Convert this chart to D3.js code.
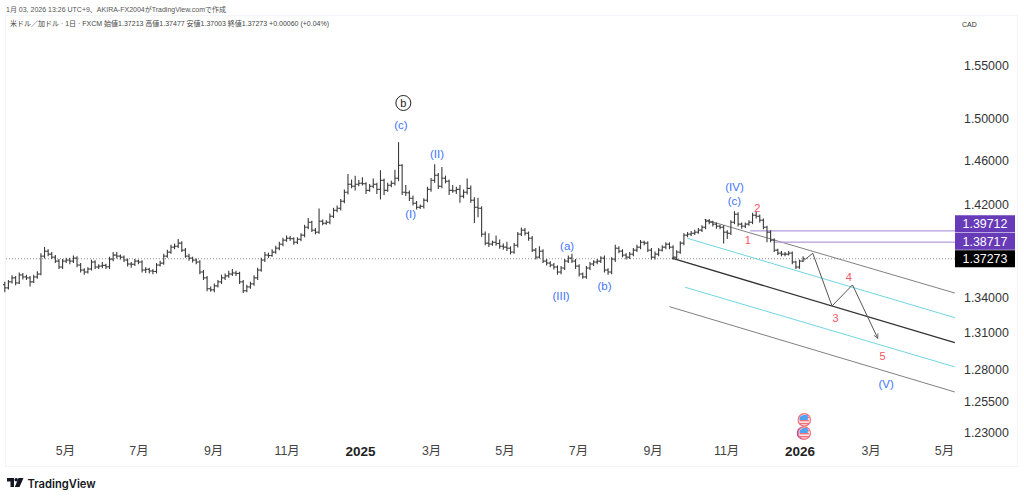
<!DOCTYPE html>
<html lang="ja">
<meta charset="utf-8">
<script src="https://d3js.org/d3.v7.min.js"></script>
<style>
    body {margin: 0; background: #fff;}
    text {font-family: "Liberation Sans", "Noto Sans CJK JP", sans-serif;}
</style>
<svg id="base" width="1024" height="501"></svg>

<script>
    // one bar every 3 calendar days
    var firstBar = new Date(2024, 2, 12);

    var opens = [
        1.3505,1.3478,1.3529,1.3563,1.3520,1.3588,1.3571,1.3563,1.3529,1.3571,
        1.3596,1.3750,1.3793,1.3767,1.3741,1.3707,1.3656,1.3707,1.3716,1.3707,
        1.3733,1.3673,1.3630,1.3613,1.3639,1.3699,1.3656,1.3664,1.3670,1.3658,
        1.3724,1.3759,1.3750,1.3741,1.3716,1.3682,1.3680,1.3707,1.3699,1.3630,
        1.3636,1.3622,1.3618,1.3673,1.3690,1.3750,1.3785,1.3828,1.3836,1.3863,
        1.3802,1.3750,1.3733,1.3716,1.3699,1.3613,1.3563,1.3470,1.3461,1.3495,
        1.3529,1.3563,1.3580,1.3596,1.3605,1.3601,1.3529,1.3453,1.3486,1.3512,
        1.3563,1.3630,1.3716,1.3759,1.3755,1.3785,1.3819,1.3854,1.3889,1.3906,
        1.3902,1.3871,1.3897,1.3933,1.4003,1.4047,1.3977,1.3959,1.4056,1.4038,
        1.4047,1.4100,1.4153,1.4171,1.4234,1.4315,1.4387,1.4369,1.4387,1.4396,
        1.4392,1.4332,1.4369,1.4387,1.4341,1.4423,1.4332,1.4378,1.4396,1.4442,
        1.4560,1.4315,1.4310,1.4261,1.4216,1.4180,1.4189,1.4243,1.4341,1.4423,
        1.4469,1.4369,1.4442,1.4414,1.4332,1.4328,1.4341,1.4279,1.4315,1.4350,
        1.4243,1.4180,1.4171,1.3942,1.3863,1.3855,1.3871,1.3860,1.3836,1.3828,
        1.3819,1.3785,1.3845,1.3942,1.3977,1.3950,1.3906,1.3802,1.3741,1.3793,
        1.3707,1.3690,1.3673,1.3656,1.3613,1.3647,1.3707,1.3733,1.3707,1.3664,
        1.3596,1.3571,1.3647,1.3682,1.3699,1.3707,1.3733,1.3630,1.3613,1.3724,
        1.3819,1.3793,1.3759,1.3741,1.3767,1.3802,1.3828,1.3871,1.3863,1.3802,
        1.3741,1.3767,1.3802,1.3828,1.3854,1.3828,1.3741,1.3785,1.3863,1.3933,
        1.3942,1.3950,1.3959,1.3977,1.4003,1.4056,1.4047,1.4030,1.4012,1.4003,
        1.3959,1.3950,1.4047,1.4118,1.4030,1.4012,1.4030,1.4047,1.4109,1.4100,
        1.4065,1.4003,1.3959,1.3889,1.3802,1.3776,1.3767,1.3767,1.3776,1.3699,
        1.3656,1.3707
    ];
    var highs = [
        1.3530,1.3545,1.3585,1.3580,1.3610,1.3605,1.3590,1.3578,1.3590,1.3620,
        1.3775,1.3830,1.3810,1.3785,1.3760,1.3725,1.3725,1.3735,1.3735,1.3755,
        1.3750,1.3690,1.3645,1.3655,1.3720,1.3715,1.3680,1.3700,1.3685,1.3745,
        1.3785,1.3785,1.3765,1.3755,1.3730,1.3700,1.3725,1.3720,1.3715,1.3655,
        1.3650,1.3640,1.3690,1.3710,1.3770,1.3805,1.3850,1.3860,1.3900,1.3880,
        1.3820,1.3770,1.3745,1.3730,1.3715,1.3630,1.3580,1.3490,1.3515,1.3545,
        1.3590,1.3600,1.3625,1.3640,1.3625,1.3615,1.3545,1.3505,1.3530,1.3585,
        1.3650,1.3735,1.3785,1.3780,1.3810,1.3840,1.3875,1.3910,1.3930,1.3925,
        1.3915,1.3915,1.3950,1.4025,1.4085,1.4060,1.3995,1.4170,1.4070,1.4065,
        1.4125,1.4175,1.4195,1.4255,1.4340,1.4480,1.4430,1.4465,1.4425,1.4450,
        1.4405,1.4390,1.4440,1.4400,1.4515,1.4440,1.4400,1.4420,1.4520,1.4774,
        1.4570,1.4380,1.4330,1.4285,1.4235,1.4205,1.4260,1.4365,1.4445,1.4570,
        1.4490,1.4545,1.4465,1.4430,1.4380,1.4365,1.4380,1.4340,1.4440,1.4375,
        1.4270,1.4265,1.4190,1.3965,1.3950,1.3885,1.3930,1.3895,1.3860,1.3875,
        1.3835,1.3865,1.3960,1.4000,1.3995,1.3965,1.3925,1.3820,1.3835,1.3810,
        1.3725,1.3705,1.3690,1.3670,1.3665,1.3725,1.3755,1.3770,1.3725,1.3680,
        1.3610,1.3665,1.3700,1.3715,1.3725,1.3750,1.3755,1.3645,1.3740,1.3850,
        1.3835,1.3810,1.3775,1.3785,1.3820,1.3850,1.3890,1.3885,1.3880,1.3820,
        1.3790,1.3820,1.3845,1.3870,1.3870,1.3845,1.3800,1.3880,1.3950,1.3960,
        1.3970,1.3980,1.3995,1.4020,1.4075,1.4075,1.4060,1.4045,1.4025,1.4020,
        1.3975,1.4065,1.4145,1.4135,1.4045,1.4045,1.4065,1.4130,1.4140,1.4115,
        1.4080,1.4015,1.3975,1.3905,1.3815,1.3795,1.3785,1.3795,1.3790,1.3710,
        1.3720,1.3748
    ];
    var lows = [
        1.3440,1.3465,1.3515,1.3500,1.3510,1.3550,1.3545,1.3490,1.3520,1.3555,
        1.3585,1.3730,1.3750,1.3725,1.3690,1.3640,1.3640,1.3690,1.3680,1.3690,
        1.3655,1.3610,1.3590,1.3600,1.3625,1.3640,1.3640,1.3645,1.3640,1.3640,
        1.3705,1.3730,1.3720,1.3700,1.3660,1.3650,1.3665,1.3680,1.3610,1.3605,
        1.3600,1.3595,1.3600,1.3660,1.3675,1.3735,1.3770,1.3810,1.3820,1.3785,
        1.3735,1.3710,1.3695,1.3680,1.3595,1.3545,1.3450,1.3445,1.3440,1.3480,
        1.3510,1.3545,1.3565,1.3580,1.3580,1.3510,1.3435,1.3440,1.3470,1.3495,
        1.3545,1.3615,1.3700,1.3735,1.3745,1.3770,1.3800,1.3835,1.3875,1.3885,
        1.3850,1.3855,1.3880,1.3915,1.3985,1.3960,1.3940,1.3945,1.4020,1.4025,
        1.4030,1.4085,1.4135,1.4150,1.4215,1.4295,1.4350,1.4330,1.4370,1.4375,
        1.4300,1.4320,1.4350,1.4300,1.4250,1.4290,1.4320,1.4360,1.4375,1.4415,
        1.4290,1.4280,1.4235,1.4195,1.4160,1.4165,1.4170,1.4225,1.4320,1.4400,
        1.4345,1.4350,1.4395,1.4290,1.4310,1.4300,1.4220,1.4260,1.4295,1.4220,
        1.4040,1.4090,1.3920,1.3845,1.3830,1.3840,1.3840,1.3815,1.3805,1.3795,
        1.3765,1.3770,1.3825,1.3925,1.3930,1.3885,1.3785,1.3720,1.3730,1.3690,
        1.3670,1.3655,1.3635,1.3590,1.3595,1.3630,1.3690,1.3690,1.3640,1.3575,
        1.3555,1.3555,1.3630,1.3665,1.3680,1.3690,1.3610,1.3590,1.3595,1.3700,
        1.3775,1.3740,1.3720,1.3725,1.3750,1.3785,1.3810,1.3845,1.3785,1.3720,
        1.3720,1.3750,1.3790,1.3810,1.3810,1.3720,1.3725,1.3770,1.3845,1.3915,
        1.3925,1.3935,1.3945,1.3960,1.3985,1.4030,1.4010,1.3990,1.3985,1.3860,
        1.3900,1.3935,1.4030,1.4010,1.3990,1.3995,1.4015,1.4030,1.4080,1.4045,
        1.3985,1.3870,1.3870,1.3785,1.3760,1.3750,1.3750,1.3755,1.3680,1.3640,
        1.3640,1.3700
    ];
    var closes = [
        1.3478,1.3529,1.3563,1.3520,1.3588,1.3571,1.3563,1.3529,1.3571,1.3596,
        1.3750,1.3793,1.3767,1.3741,1.3707,1.3656,1.3707,1.3716,1.3707,1.3733,
        1.3673,1.3630,1.3613,1.3639,1.3699,1.3656,1.3664,1.3670,1.3658,1.3724,
        1.3759,1.3750,1.3741,1.3716,1.3682,1.3680,1.3707,1.3699,1.3630,1.3636,
        1.3622,1.3618,1.3673,1.3690,1.3750,1.3785,1.3828,1.3836,1.3863,1.3802,
        1.3750,1.3733,1.3716,1.3699,1.3613,1.3563,1.3470,1.3461,1.3495,1.3529,
        1.3563,1.3580,1.3596,1.3605,1.3601,1.3529,1.3453,1.3486,1.3512,1.3563,
        1.3630,1.3716,1.3759,1.3755,1.3785,1.3819,1.3854,1.3889,1.3906,1.3902,
        1.3871,1.3897,1.3933,1.4003,1.4047,1.3977,1.3959,1.4056,1.4038,1.4047,
        1.4100,1.4153,1.4171,1.4234,1.4315,1.4387,1.4369,1.4387,1.4396,1.4392,
        1.4332,1.4369,1.4387,1.4341,1.4423,1.4332,1.4378,1.4396,1.4442,1.4560,
        1.4315,1.4310,1.4261,1.4216,1.4180,1.4189,1.4243,1.4341,1.4423,1.4469,
        1.4369,1.4442,1.4414,1.4332,1.4328,1.4341,1.4279,1.4315,1.4350,1.4243,
        1.4180,1.4171,1.3942,1.3863,1.3855,1.3871,1.3860,1.3836,1.3828,1.3819,
        1.3785,1.3845,1.3942,1.3977,1.3950,1.3906,1.3802,1.3741,1.3793,1.3707,
        1.3690,1.3673,1.3656,1.3613,1.3647,1.3707,1.3733,1.3707,1.3664,1.3596,
        1.3571,1.3647,1.3682,1.3699,1.3707,1.3733,1.3630,1.3613,1.3724,1.3819,
        1.3793,1.3759,1.3741,1.3767,1.3802,1.3828,1.3871,1.3863,1.3802,1.3741,
        1.3767,1.3802,1.3828,1.3854,1.3828,1.3741,1.3785,1.3863,1.3933,1.3942,
        1.3950,1.3959,1.3977,1.4003,1.4056,1.4047,1.4030,1.4012,1.4003,1.3959,
        1.3950,1.4047,1.4118,1.4030,1.4012,1.4030,1.4047,1.4109,1.4100,1.4065,
        1.4003,1.3959,1.3889,1.3802,1.3776,1.3767,1.3767,1.3776,1.3699,1.3656,
        1.3707,1.3727
    ];

    var priceTicks = [1.55, 1.50, 1.46, 1.42, 1.34, 1.31, 1.28, 1.255, 1.23];
    var timeTicks = ["2024-05-01","2024-07-01","2024-09-01","2024-11-01","2025-01-01","2025-03-01",
        "2025-05-01","2025-07-01","2025-09-01","2025-11-01","2026-01-01","2026-03-01","2026-05-01"];
    var timeLabels = ["5月","7月","9月","11月","2025","3月","5月","7月","9月","11月","2026","3月","5月"];

    var lastPrice = 1.37273;
    var levels = [1.39712, 1.38717];
    var levelStarts = ["2025-11-21", "2025-12-11"];

    // channel lines: start date, start price, end date, end price, colour
    var channelStart = ["2025-10-14","2025-09-30","2025-09-17","2025-09-28","2025-09-15"];
    var channelFrom = [1.4071, 1.3905, 1.3732, 1.3483, 1.3319];
    var channelEnd = "2026-05-10";
    var channelTo = [1.3434, 1.3227, 1.3020, 1.2823, 1.2622];
    var channelColors = ["#808080", "#6fd6e0", "#333333", "#6fd6e0", "#808080"];
    var channelWidths = [1, 1, 1.3, 1, 1];

    var pathDates = ["2026-01-05","2026-01-12","2026-01-28","2026-02-14","2026-03-07"];
    var pathPrices = [1.3716, 1.3775, 1.3325, 1.3503, 1.3056];

    var waveText = ["(c)","(II)","(I)","(a)","(III)","(b)","(IV)","(c)","(V)"];
    var waveDates = ["2025-02-04","2025-03-06","2025-02-12","2025-06-22","2025-06-17","2025-07-23","2025-11-08","2025-11-08","2026-03-14"];
    var wavePrices = [1.4935, 1.4665, 1.4120, 1.3839, 1.3409, 1.3494, 1.4363, 1.4236, 1.2686];

    var subText = ["1","2","3","4","5"];
    var subDates = ["2025-11-19","2025-11-27","2026-01-31","2026-02-11","2026-03-11"];
    var subPrices = [1.3891, 1.4174, 1.3225, 1.3573, 1.2912];

    var eventDate = "2026-01-05";
    var eventPrices = [1.2402, 1.2300];

    var parse = d3.timeParse("%Y-%m-%d");

    var x = d3.scaleTime()
        .domain([parse("2024-05-01"), parse("2026-05-01")])
        .range([65, 944]);

    var y = d3.scaleLog()
        .domain([1.55, 1.23])
        .range([66, 433]);

    var svg = d3.select("#base");

    // frame
    svg.append("rect")
        .attr("x", 5.5).attr("y", 15.5)
        .attr("width", 1012).attr("height", 451)
        .attr("fill", "none")
        .attr("stroke", "#f3f5fa");

    svg.append("text")
        .attr("x", 6).attr("y", 11.5)
        .attr("font-size", 7).attr("fill", "#555")
        .text("1月 03, 2026 13:26 UTC+9、AKIRA-FX2004がTradingView.comで作成");

    svg.append("text")
        .attr("x", 10).attr("y", 26)
        .attr("font-size", 7).attr("fill", "#444")
        .text("米ドル／加ドル · 1日 · FXCM  始値1.37213  高値1.37477  安値1.37003  終値1.37273  +0.00060 (+0.04%)");

    svg.append("text")
        .attr("x", 962).attr("y", 26.5)
        .attr("font-size", 7).attr("fill", "#333")
        .text("CAD");

    // axes
    var yAxis = svg.append("g")
        .attr("transform", "translate(964,0)")
        .call(d3.axisRight(y)
            .tickValues(priceTicks)
            .tickSize(0)
            .tickPadding(0)
            .tickFormat(d3.format(".5f")));
    yAxis.select(".domain").remove();
    yAxis.selectAll("text")
        .attr("font-size", 12.4)
        .attr("fill", "#333")
        .style("font-family", "'Liberation Sans', sans-serif");

    var xAxis = svg.append("g")
        .attr("transform", "translate(0,446)")
        .call(d3.axisBottom(x)
            .tickValues(timeTicks.map(parse))
            .tickSize(0)
            .tickPadding(0)
            .tickFormat(function (d, i) { return timeLabels[i]; }));
    xAxis.select(".domain").remove();
    xAxis.selectAll("text")
        .attr("font-size", function (d, i) { return timeLabels[i].length == 4 ? 13.5 : 12.4; })
        .attr("fill", function (d, i) { return timeLabels[i].length == 4 ? "#222" : "#444"; })
        .attr("font-weight", function (d, i) { return timeLabels[i].length == 4 ? "bold" : "normal"; })
        .style("font-family", "'Liberation Sans', 'Noto Sans CJK JP', sans-serif");

    // last price dotted line
    svg.append("line")
        .attr("x1", 6).attr("x2", 955)
        .attr("y1", y(lastPrice)).attr("y2", y(lastPrice))
        .attr("stroke", "#777")
        .attr("stroke-width", 0.8)
        .attr("stroke-dasharray", "1,2");

    // channel
    svg.append("g")
        .selectAll("line")
        .data(channelStart)
        .enter()
        .append("line")
        .attr("x1", function (d) { return x(parse(d)); })
        .attr("y1", function (d, i) { return y(channelFrom[i]); })
        .attr("x2", x(parse(channelEnd)))
        .attr("y2", function (d, i) { return y(channelTo[i]); })
        .attr("stroke", function (d, i) { return channelColors[i]; })
        .attr("stroke-width", function (d, i) { return channelWidths[i]; });

    // purple levels
    svg.append("g")
        .selectAll("line")
        .data(levels)
        .enter()
        .append("line")
        .attr("x1", function (d, i) { return x(parse(levelStarts[i])); })
        .attr("x2", 955)
        .attr("y1", function (d) { return y(d); })
        .attr("y2", function (d) { return y(d); })
        .attr("stroke", "#b39ddb")
        .attr("stroke-width", 1.2);

    // OHLC bars
    var bars = svg.append("g")
        .selectAll("g")
        .data(closes)
        .enter()
        .append("g")
        .attr("transform", function (d, i) {
            return "translate(" + x(d3.timeDay.offset(firstBar, i * 3)) + ",0)";
        })
        .attr("stroke", "#3a3a3a")
        .attr("stroke-width", 1.1);

    bars.append("line")
        .attr("y1", function (d, i) { return y(highs[i]); })
        .attr("y2", function (d, i) { return y(lows[i]); });
    bars.append("line")
        .attr("x1", -1.8).attr("x2", 0)
        .attr("y1", function (d, i) { return y(opens[i]); })
        .attr("y2", function (d, i) { return y(opens[i]); });
    bars.append("line")
        .attr("x1", 0).attr("x2", 1.8)
        .attr("y1", function (d) { return y(d); })
        .attr("y2", function (d) { return y(d); });

    // forecast path with arrow head
    svg.append("defs").append("marker")
        .attr("id", "head")
        .attr("viewBox", "0 0 8 8")
        .attr("refX", 7).attr("refY", 4)
        .attr("markerWidth", 6).attr("markerHeight", 6)
        .attr("markerUnits", "userSpaceOnUse")
        .attr("orient", "auto")
        .append("path")
        .attr("d", "M1,1L7,4L1,7")
        .attr("fill", "none")
        .attr("stroke", "#555");

    var pathLine = d3.line()
        .x(function (d) { return x(parse(d)); })
        .y(function (d, i) { return y(pathPrices[i]); });

    svg.append("path")
        .attr("d", pathLine(pathDates))
        .attr("fill", "none")
        .attr("stroke", "#555")
        .attr("stroke-width", 1)
        .attr("marker-end", "url(#head)");

    // wave labels
    svg.append("g")
        .selectAll("text")
        .data(waveText)
        .enter()
        .append("text")
        .attr("x", function (d, i) { return x(parse(waveDates[i])); })
        .attr("y", function (d, i) { return y(wavePrices[i]); })
        .attr("dy", "0.35em")
        .attr("text-anchor", "middle")
        .attr("font-size", 11.5)
        .attr("fill", "#3f74ff")
        .text(function (d) { return d; });

    svg.append("g")
        .selectAll("text")
        .data(subText)
        .enter()
        .append("text")
        .attr("x", function (d, i) { return x(parse(subDates[i])); })
        .attr("y", function (d, i) { return y(subPrices[i]); })
        .attr("dy", "0.35em")
        .attr("text-anchor", "middle")
        .attr("font-size", 11)
        .attr("fill", "#f55563")
        .text(function (d) { return d; });

    // circled b
    var circled = svg.append("g")
        .attr("transform", "translate(" + x(parse("2025-02-06")) + "," + y(1.5143) + ")");
    circled.append("circle")
        .attr("r", 7.5)
        .attr("fill", "#fff")
        .attr("stroke", "#222");
    circled.append("text")
        .attr("dy", "0.35em")
        .attr("text-anchor", "middle")
        .attr("font-size", 11)
        .attr("fill", "#222")
        .text("b");

    // US event icons
    var icons = svg.append("g")
        .selectAll("g")
        .data(eventPrices)
        .enter()
        .append("g")
        .attr("transform", function (d) {
            return "translate(" + x(parse(eventDate)) + "," + y(d) + ")";
        });
    icons.filter(function (d, i) { return i == 1; })
        .append("circle")
        .attr("cx", -1).attr("r", 6.6)
        .attr("fill", "#a040c0");
    icons.append("circle")
        .attr("r", 6.2)
        .attr("fill", "#fde8ea")
        .attr("stroke", "#f0707a")
        .attr("stroke-width", 1.2);
    icons.selectAll(".stripe")
        .data([-3, 0, 3])
        .enter()
        .append("rect")
        .attr("class", "stripe")
        .attr("x", -4.6).attr("width", 9.2)
        .attr("y", function (d) { return d; }).attr("height", 1.4)
        .attr("fill", "#f0707a");
    icons.append("path")
        .attr("d", "M-5,0A5,5 0 0 1 0,-5L3.5,-5L3.5,0Z")
        .attr("fill", "#4fa3f0");

    // price labels on the right
    var boxes = [lastPrice, levels[1], levels[0]];
    var boxColors = ["#000", "#673ab7", "#673ab7"];
    var tags = svg.append("g")
        .selectAll("g")
        .data(boxes)
        .enter()
        .append("g")
        .attr("transform", function (d, i) {
            return "translate(955," + (y(lastPrice) - 8.5 - i * 17.5) + ")";
        });
    tags.append("rect")
        .attr("width", 60).attr("height", 17)
        .attr("fill", function (d, i) { return boxColors[i]; });
    tags.append("text")
        .attr("x", 30).attr("y", 8.5)
        .attr("dy", "0.36em")
        .attr("text-anchor", "middle")
        .attr("font-size", 12.4)
        .attr("fill", "#fff")
        .text(function (d) { return d3.format(".5f")(d); });

    // logo
    var logo = svg.append("g").attr("transform", "translate(7,478)").attr("fill", "#131722");
    logo.append("path").attr("d", "M0,0H7V9H3.5V3.5H0Z");
    logo.append("circle").attr("cx", 9.2).attr("cy", 1.8).attr("r", 1.8);
    logo.append("path").attr("d", "M11.5,0H16.5L12.5,9H7.8Z");
    svg.append("text")
        .attr("x", 27.5).attr("y", 488)
        .attr("font-size", 11.2)
        .attr("font-weight", 600)
        .attr("fill", "#131722")
        .style("font-family", "Inter, sans-serif")
        .text("TradingView");
</script>
</html>
